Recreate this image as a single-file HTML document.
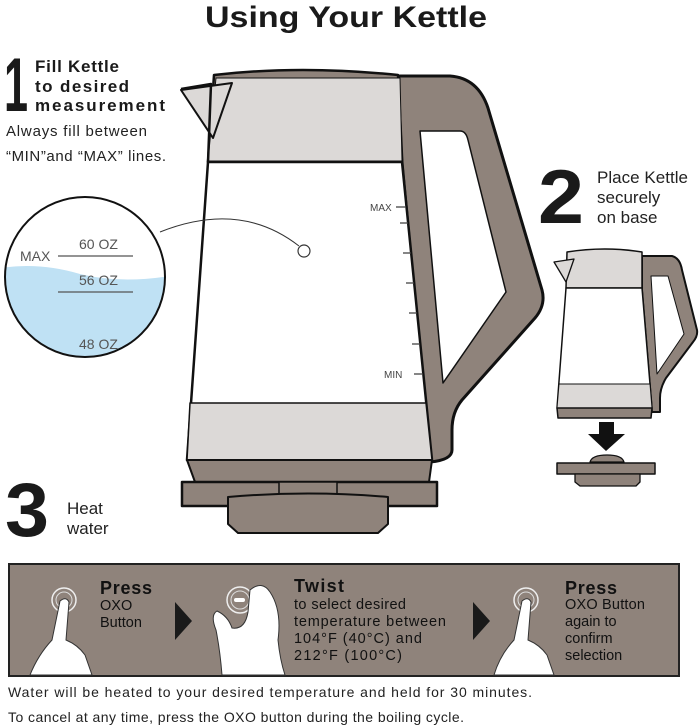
<!DOCTYPE html>
<html><head><meta charset="utf-8"><style>
html,body{margin:0;padding:0;background:#fff;}
svg{display:block;font-family:"Liberation Sans",sans-serif;}
</style></head><body>
<svg width="700" height="727" viewBox="0 0 700 727" xmlns="http://www.w3.org/2000/svg">
<text x="205" y="27" textLength="282" lengthAdjust="spacingAndGlyphs" font-size="30" font-weight="bold" fill="#1a1a1a">Using Your Kettle</text>

<!-- Step 1 -->
<text x="4" y="111" textLength="24" lengthAdjust="spacingAndGlyphs" font-size="76" font-weight="bold" fill="#1a1a1a">1</text>
<text font-size="17" font-weight="bold" fill="#1a1a1a"><tspan x="35" y="72" textLength="84">Fill Kettle</tspan><tspan x="35" y="92" textLength="94">to desired</tspan><tspan x="35" y="111" textLength="130">measurement</tspan></text>
<text font-size="15" fill="#222"><tspan x="6" y="136" textLength="141">Always fill between</tspan><tspan x="6" y="161" textLength="160">“MIN”and “MAX” lines.</tspan></text>

<!-- magnifier circle -->
<defs><clipPath id="cc"><circle cx="85" cy="277" r="80"/></clipPath></defs>
<g clip-path="url(#cc)">
<rect x="0" y="190" width="180" height="180" fill="#fff"/>
<path d="M0,268 Q40,262 80,274 Q120,284 170,276 L170,370 L0,370Z" fill="#bfe1f4"/>
</g>
<circle cx="85" cy="277" r="80" fill="none" stroke="#111" stroke-width="2"/>
<line x1="58" y1="256" x2="133" y2="256" stroke="#555" stroke-width="1.3"/>
<line x1="58" y1="292" x2="133" y2="292" stroke="#555" stroke-width="1.3"/>
<text font-size="14" fill="#555"><tspan x="20" y="261">MAX</tspan><tspan x="79" y="249">60 OZ</tspan><tspan x="79" y="285">56 OZ</tspan><tspan x="79" y="349">48 OZ</tspan></text>

<!-- main kettle -->
<g stroke="#111" stroke-linejoin="round">
<path d="M398,76 L450,76 Q478,78 488,108 L542,290 Q546,305 535,318 L462,400 Q452,412 452,430 L452,450 Q452,460 430,462 L402,162Z" fill="#8f837b" stroke-width="3"/>
<path d="M420,131 L460,131 Q466,131 468,140 L506,292 L443,383Z" fill="#fff" stroke-width="1.5"/>
<path d="M214,75 Q300,65 398,75 L402,162 L208,162Z" fill="#8f837b" stroke-width="2.5"/>
<path d="M216,78 L400,78 L402,161 L208,161Z" fill="#dcd9d7" stroke-width="1"/>
<path d="M181,90 L232,83 L213,138Z" fill="#dcd9d7" stroke-width="2"/>
<path d="M181,89 L211,84 L208,162" fill="none" stroke-width="2.5"/>
<path d="M208,162 L402,162 L432,460 L187,460Z" fill="#fff" stroke-width="2.5"/>
<path d="M190,403 L426,403 L432,460 L187,460Z" fill="#dcd9d7" stroke-width="1.5"/>
<path d="M187,460 L432,460 L429,482 L195,482Z" fill="#8f837b" stroke-width="2"/>
<rect x="182" y="482" width="255" height="24" fill="#8f837b" stroke-width="2.5"/>
<rect x="279" y="482" width="58" height="15" fill="#8f837b" stroke-width="1.5"/>
<path d="M228,497 Q308,490 388,497 L388,524 L378,533 L238,533 L228,524Z" fill="#8f837b" stroke-width="2"/>
</g>
<path d="M160,232 Q240,200 299,246" fill="none" stroke="#333" stroke-width="1"/>
<circle cx="304" cy="251" r="6" fill="#fff" stroke="#333" stroke-width="1.2"/>
<g stroke="#444" stroke-width="1.3">
<line x1="396" y1="207" x2="406" y2="207"/>
<line x1="400" y1="223" x2="408" y2="223"/>
<line x1="403" y1="253" x2="411" y2="253"/>
<line x1="406" y1="283" x2="414" y2="283"/>
<line x1="409" y1="313" x2="417" y2="313"/>
<line x1="412" y1="344" x2="420" y2="344"/>
<line x1="414" y1="374" x2="423" y2="374"/>
</g>
<text font-size="10" fill="#444"><tspan x="370" y="211">MAX</tspan><tspan x="384" y="378">MIN</tspan></text>

<!-- Step 2 -->
<text x="538" y="223" textLength="46" lengthAdjust="spacingAndGlyphs" font-size="76" font-weight="bold" fill="#1a1a1a">2</text>
<text font-size="17" fill="#222"><tspan x="597" y="183" textLength="91">Place Kettle</tspan><tspan x="597" y="203">securely</tspan><tspan x="597" y="223">on base</tspan></text>

<g stroke="#111" stroke-linejoin="round">
<path d="M642,256 L672,256 Q680,258 682,270 L697,330 Q698,336 693,342 L666,378 Q660,388 660,398 L660,412 L652,412 L642,290Z" fill="#8f837b" stroke-width="2"/>
<path d="M651,276 L668,276 L684,334 L657,374Z" fill="#fff" stroke-width="1"/>
<path d="M567,252 Q605,246 642,252 L642,288 L566,288Z" fill="#dcd9d7" stroke-width="1.5"/>
<path d="M554,262 L574,259 L566,282Z" fill="#dcd9d7" stroke-width="1.3"/>
<path d="M566,288 L642,288 L652,408 L557,408Z" fill="#fff" stroke-width="1.5"/>
<path d="M559,384 L650,384 L652,408 L557,408Z" fill="#dcd9d7" stroke-width="1"/>
<path d="M557,408 L652,408 L651,418 L558,418Z" fill="#8f837b" stroke-width="1.5"/>
<path d="M590,462 Q592,455 607,455 Q622,455 624,462Z" fill="#8f837b" stroke-width="1.3"/>
<rect x="557" y="463" width="98" height="11" fill="#8f837b" stroke-width="1.5"/>
<path d="M575,474 L640,474 L640,482 L636,486 L580,486 L575,482Z" fill="#8f837b" stroke-width="1.3"/>
</g>
<rect x="599" y="422" width="15" height="13" fill="#111"/>
<path d="M588,434 L625,434 L606,451Z" fill="#111"/>

<!-- Step 3 -->
<text x="5" y="536" textLength="44" lengthAdjust="spacingAndGlyphs" font-size="76" font-weight="bold" fill="#1a1a1a">3</text>
<text font-size="17" fill="#222"><tspan x="67" y="514">Heat</tspan><tspan x="67" y="534">water</tspan></text>

<!-- panel -->
<rect x="9" y="564" width="670" height="112" fill="#8f837b" stroke="#222" stroke-width="2"/>
<g fill="#fff" stroke="#333" stroke-width="1">
<circle cx="64" cy="600" r="12" fill="none" stroke="#eee" stroke-width="1.5"/>
<circle cx="64" cy="600" r="8" fill="#8f837b" stroke="#ddd"/>
<path d="M60,601 Q66,596 69,602 L66,640 Q78,645 85,655 L92,675 L30,675 Q38,655 52,640Z"/>
<circle cx="240" cy="600" r="13" fill="none" stroke="#eee" stroke-width="1.5"/>
<circle cx="240" cy="600" r="9" fill="#8f837b" stroke="#ddd"/>
<rect x="234" y="598" width="11" height="4" rx="2" fill="#fff" stroke="none"/>
<path d="M250,590 Q262,580 270,592 Q282,610 278,640 Q280,660 285,675 L222,675 Q220,650 216,630 Q210,615 217,611 Q228,616 232,628 Q245,630 248,612 Z"/>
<circle cx="526" cy="600" r="12" fill="none" stroke="#eee" stroke-width="1.5"/>
<circle cx="526" cy="600" r="8" fill="#8f837b" stroke="#ddd"/>
<path d="M522,601 Q528,596 531,602 L528,640 Q540,645 547,655 L554,675 L494,675 Q500,655 514,640Z"/>
</g>
<path d="M175,602 L192,621 L175,640Z" fill="#1a1a1a"/>
<path d="M473,602 L490,621 L473,640Z" fill="#1a1a1a"/>
<text font-size="18" font-weight="bold" fill="#111"><tspan x="100" y="594" textLength="52">Press</tspan><tspan x="294" y="592" textLength="50">Twist</tspan><tspan x="565" y="594" textLength="52">Press</tspan></text>
<text font-size="14.5" fill="#111"><tspan x="100" y="610">OXO</tspan><tspan x="100" y="627">Button</tspan>
<tspan x="294" y="609" textLength="112">to select desired</tspan><tspan x="294" y="626" textLength="152">temperature between</tspan><tspan x="294" y="643" textLength="128">104°F (40°C) and</tspan><tspan x="294" y="660" textLength="108">212°F (100°C)</tspan>
<tspan x="565" y="609" textLength="80">OXO Button</tspan><tspan x="565" y="626">again to</tspan><tspan x="565" y="643">confirm</tspan><tspan x="565" y="660">selection</tspan></text>
<text font-size="14" fill="#222"><tspan x="8" y="697" textLength="524">Water will be heated to your desired temperature and held for 30 minutes.</tspan><tspan x="8" y="722" textLength="456">To cancel at any time, press the OXO button during the boiling cycle.</tspan></text>
</svg>
</body></html>
